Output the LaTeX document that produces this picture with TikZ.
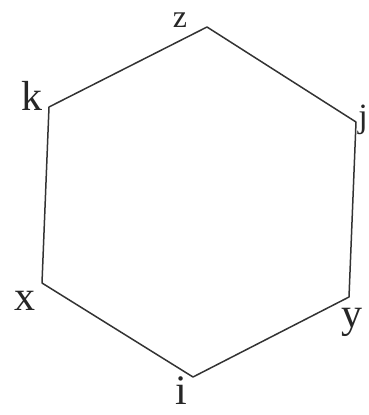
\documentclass[tikz,border=0pt]{standalone}
\usepackage{fontspec}
\setmainfont{Liberation Serif}
\begin{document}
\begin{tikzpicture}[x=1pt,y=-1pt,
  edge/.style={draw=black!80, line width=1.5pt, line join=round},
  lbl/.style={inner sep=0pt, text=black!85, font=\fontsize{42}{42}\selectfont}]
\useasboundingbox (0,0) rectangle (368,415);
\coordinate (z) at (207,27);
\coordinate (j) at (356,122);
\coordinate (y) at (349,297);
\coordinate (i) at (193,377);
\coordinate (x) at (42,283);
\coordinate (k) at (49,107);
\draw[edge] (z) -- (j) -- (y) -- (i) -- (x) -- (k) -- cycle;
\node[lbl, font=\fontsize{32}{32}\selectfont] (lz) at (180,20) {z};
\node[lbl] (lk) at (32,96) {k};
\node[lbl, anchor=east, font=\fontsize{34}{34}\selectfont] (lj) at (368,120) {j};
\node[lbl] (lx) at (25,301) {x};
\node[lbl] (ly) at (352,322) {y};
\node[lbl] (li) at (181,391) {i};
\end{tikzpicture}
\end{document}
